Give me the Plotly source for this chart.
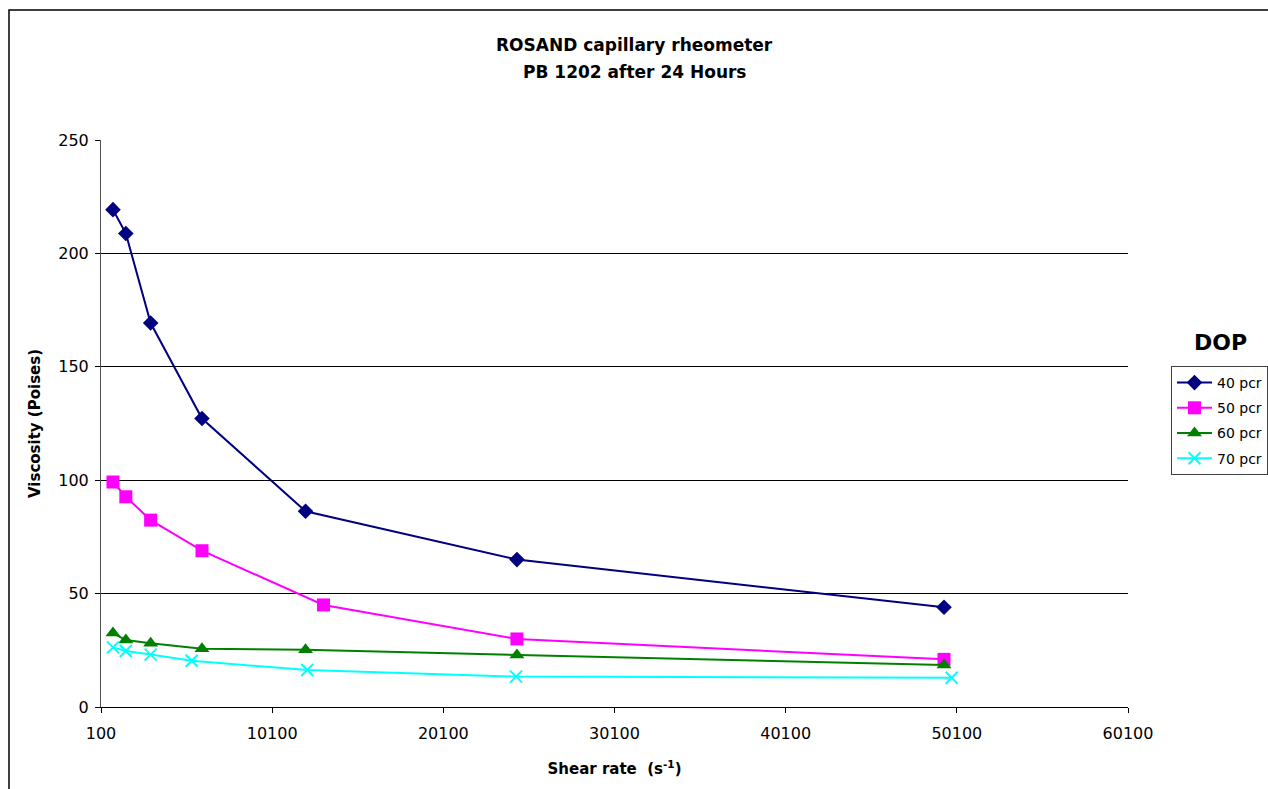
import plotly.graph_objects as go

# Data
series_names = ["40 pcr", "50 pcr", "60 pcr", "70 pcr"]
x_40 = [800, 1550, 3000, 6000, 12050, 24400, 49350]
y_40 = [219.3, 208.8, 169.3, 127.2, 86.3, 65.0, 44.0]
x_50 = [800, 1550, 3000, 6000, 13100, 24400, 49350]
y_50 = [99.2, 92.7, 82.4, 68.9, 45.0, 30.0, 21.0]
x_60 = [800, 1550, 3000, 6000, 12050, 24400, 49350]
y_60 = [32.6, 29.5, 28.1, 25.7, 25.2, 22.9, 18.5]
x_70 = [800, 1550, 3000, 5400, 12150, 24350, 49800]
y_70 = [26.3, 24.7, 23.1, 20.4, 16.3, 13.4, 12.9]

colors = ["#000080", "#FF00FF", "#008000", "#00FFFF"]
symbols = ["diamond", "square", "triangle-up", "x-thin"]
sizes = [12, 13, 13, 12]

W, H = 1268, 789
# plot area in screen pixels
SX0, SX1, SY0, SY1 = 101, 1128, 140, 707
L, T = SX0, SY0
PW, PH = SX1 - SX0, SY1 - SY0
R = W - L - PW
B = H - T - PH

def px_to_paper_x(px):
    return (px - SX0) / PW

def px_to_paper_y(py):
    return (SY1 - py) / PH

fig = go.Figure()
xs = [x_40, x_50, x_60, x_70]
ys = [y_40, y_50, y_60, y_70]
for i, name in enumerate(series_names):
    marker = dict(symbol=symbols[i], size=sizes[i], color=colors[i])
    if symbols[i] == "x-thin":
        marker["line"] = dict(color=colors[i], width=2)
    else:
        marker["line"] = dict(color=colors[i], width=0)
    fig.add_trace(go.Scatter(
        x=xs[i], y=ys[i], name=name, mode="lines+markers",
        line=dict(color=colors[i], width=2),
        marker=marker, legendgroup=name, hoverinfo="skip",
    ))

TICKFONT = dict(family="DejaVu Sans", size=16, color="black")
BOLD = "DejaVu Sans"

fig.update_layout(
    width=W, height=H,
    margin=dict(l=L, r=R, t=T, b=B, pad=0, autoexpand=False),
    paper_bgcolor="white", plot_bgcolor="white",
    showlegend=True,
    legend=dict(
        x=px_to_paper_x(1171), y=px_to_paper_y(366),
        xanchor="left", yanchor="top",
        bgcolor="white", bordercolor="#404040", borderwidth=1,
        font=dict(family="DejaVu Sans", size=14, color="black"),
        tracegroupgap=4, itemwidth=35,
    ),
    xaxis=dict(
        range=[100, 60100], tick0=100, dtick=10000, tickformat="d",
        showgrid=False, zeroline=False,
        showline=True, linecolor="black", linewidth=1,
        ticks="outside", ticklen=5, tickcolor="black",
        tickfont=TICKFONT, ticklabelstandoff=7,
        title=dict(text="<b>Shear rate  (s<sup>-1</sup>)</b>",
                   font=dict(family=BOLD, size=15, color="black"), standoff=21),
    ),
    yaxis=dict(
        range=[0, 250], tick0=0, dtick=50,
        showgrid=True, gridcolor="black", gridwidth=1,
        zeroline=False,
        showline=True, linecolor="#505050", linewidth=1,
        ticks="outside", ticklen=5, tickcolor="black",
        tickfont=TICKFONT, ticklabelstandoff=3,
        title=dict(text="<b>Viscosity (Poises)</b>",
                   font=dict(family=BOLD, size=15, color="black"), standoff=14),
    ),
    annotations=[
        dict(text="<b>ROSAND capillary rheometer</b>", xref="paper", yref="paper",
             x=px_to_paper_x(634), y=px_to_paper_y(45), showarrow=False,
             xanchor="center", yanchor="middle",
             font=dict(family=BOLD, size=17, color="black")),
        dict(text="<b>PB 1202 after 24 Hours</b>", xref="paper", yref="paper",
             x=px_to_paper_x(634), y=px_to_paper_y(72), showarrow=False,
             xanchor="center", yanchor="middle",
             font=dict(family=BOLD, size=17, color="black")),
        dict(text="<b>DOP</b>", xref="paper", yref="paper",
             x=px_to_paper_x(1220), y=px_to_paper_y(342), showarrow=False,
             xanchor="center", yanchor="middle",
             font=dict(family=BOLD, size=22, color="black")),
    ],
    shapes=[
        dict(type="rect", xref="paper", yref="paper",
             x0=px_to_paper_x(9), x1=px_to_paper_x(1300),
             y0=px_to_paper_y(820), y1=px_to_paper_y(10),
             line=dict(color="black", width=1.5), fillcolor="rgba(0,0,0,0)",
             layer="below"),
    ],
)

fig.write_html(
    "out.html",
    config={"displayModeBar": False},
    post_script="document.body.style.margin='0';document.body.style.overflow='hidden';",
)
